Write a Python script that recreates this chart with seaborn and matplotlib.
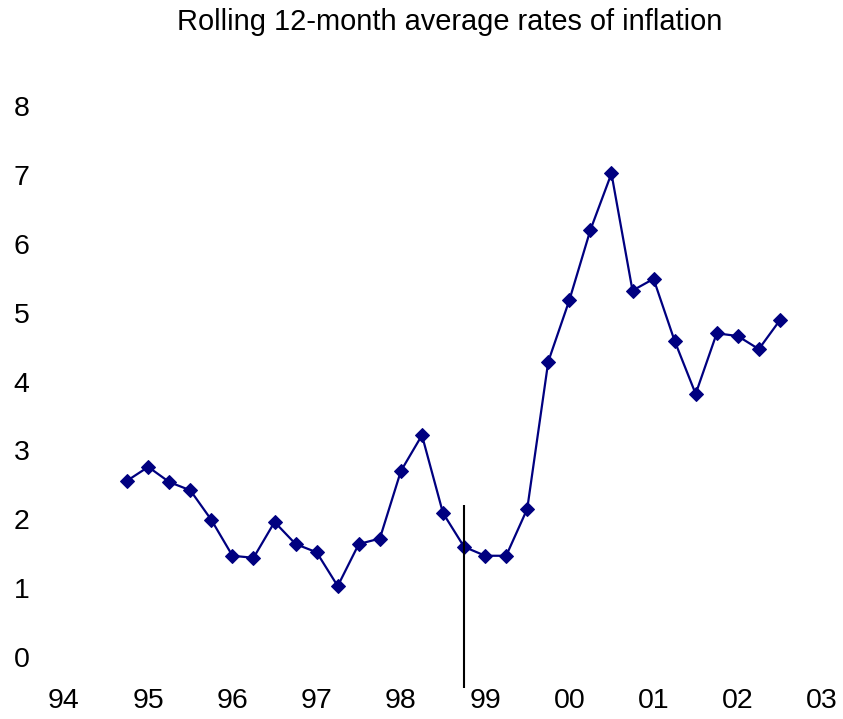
import matplotlib
matplotlib.use("Agg")
import matplotlib.pyplot as plt
import seaborn as sns
import pandas as pd

# quarterly observations (year axis, 94 = 1994)
quarters = [94.75, 95.00, 95.25, 95.50, 95.75, 96.00, 96.25, 96.50,
            96.75, 97.00, 97.25, 97.50, 97.75, 98.00, 98.25, 98.50,
            98.75, 99.00, 99.25, 99.50, 99.75, 100.00, 100.25, 100.50,
            100.75, 101.00, 101.25, 101.50, 101.75, 102.00, 102.25, 102.50]
inflation = [2.56, 2.76, 2.54, 2.42, 1.99, 1.47, 1.44, 1.96,
             1.64, 1.52, 1.03, 1.64, 1.72, 2.70, 3.22, 2.09,
             1.60, 1.47, 1.47, 2.15, 4.29, 5.18, 6.20, 7.02,
             5.32, 5.49, 4.59, 3.82, 4.70, 4.66, 4.47, 4.89]

year_ticks = [94, 95, 96, 97, 98, 99, 100, 101, 102, 103]
year_labels = ["94", "95", "96", "97", "98", "99", "00", "01", "02", "03"]
y_ticks = [0, 1, 2, 3, 4, 5, 6, 7, 8]

marker_x = 98.75
marker_top = 2.2

df = pd.DataFrame({"quarter": quarters, "inflation": inflation})

sns.set_style("white")
plt.rcParams["font.family"] = ["Liberation Sans", "DejaVu Sans"]
plt.rcParams["text.color"] = "black"
plt.rcParams["xtick.color"] = "black"
plt.rcParams["ytick.color"] = "black"

fig = plt.figure(figsize=(8.43, 7.19), dpi=100)
ax = fig.add_axes([64 / 843, 31 / 719, 758 / 843, 582 / 719])

sns.lineplot(data=df, x="quarter", y="inflation", ax=ax, color="#000080",
             linewidth=1.6, marker="D", markersize=7, markeredgecolor="#000080")

ymin = -0.45
ax.vlines(marker_x, ymin, marker_top, color="black", linewidth=1.5)

ax.set_xlim(94, 103)
ax.set_ylim(ymin, 8.0)
ax.set_xticks(year_ticks)
ax.set_xticklabels(year_labels)
ax.set_yticks(y_ticks)
ax.tick_params(axis="both", length=0, labelsize=20.5, labelcolor="black")
ax.tick_params(axis="x", pad=0)
ax.tick_params(axis="y", pad=25)
ax.set_xlabel("")
ax.set_ylabel("")
for lab in ax.get_yticklabels() + ax.get_xticklabels():
    lab.set_clip_on(False)
sns.despine(ax=ax, left=True, bottom=True)

fig.text(450 / 843, 1 - 22 / 719, "Rolling 12-month average rates of inflation",
         ha="center", va="center", fontsize=20.9, color="black")

fig.savefig("out.png", dpi=100)
